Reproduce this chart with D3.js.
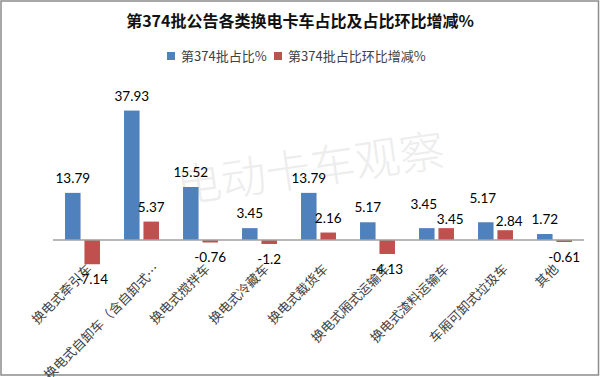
<!DOCTYPE html>
<html>
<head>
<meta charset="utf-8">
<script src="https://cdn.jsdelivr.net/npm/d3@7"></script>
<style>
  body { margin: 0; background: #fff; }
  svg { display: block; }
</style>
</head>
<body>
<div id="app"></div>
<script>
const d3 = window.d3;

const title = "第374批公告各类换电卡车占比及占比环比增减%";
const categories = [
  "换电式牵引车",
  "换电式自卸车（含自卸式…",
  "换电式搅拌车",
  "换电式冷藏车",
  "换电式载货车",
  "换电式厢式运输车",
  "换电式渣料运输车",
  "车厢可卸式垃圾车",
  "其他",
];
const seriesNames = ["第374批占比%", "第374批占比环比增减%"];
const shareValues = [13.79, 37.93, 15.52, 3.45, 13.79, 5.17, 3.45, 5.17, 1.72];
const changeValues = [-7.14, 5.37, -0.76, -1.2, 2.16, -4.13, 3.45, 2.84, -0.61];
const watermark = "电动卡车观察";

const screen = { width: 600, height: 377 };
const plot = { left: 53, right: 584, top: 103.5, bottom: 274 };
const colors = ["#4f81bd", "#c0504d"];
const numFont = "Lato, 'Liberation Sans', sans-serif";
const cjkFont = "'Noto Sans CJK SC', sans-serif";

const data = categories.map((c, i) => ({
  category: c,
  values: [shareValues[i], changeValues[i]],
}));

const scales = {
  x0: d3.scaleBand().domain(categories).range([plot.left, plot.right]).padding(0),
  x1: d3.scaleBand().domain([0, 1]).paddingInner(0.2).paddingOuter(0.62),
  y: d3.scaleLinear().domain([-10, 40]).range([plot.bottom, plot.top]),
};
scales.x1.range([0, scales.x0.bandwidth()]);

const svg = d3
  .create("svg")
  .attr("width", screen.width)
  .attr("height", screen.height)
  .attr("viewBox", [0, 0, screen.width, screen.height]);

svg.append("rect")
  .attr("width", screen.width)
  .attr("height", screen.height)
  .attr("fill", "#fff");

// frame
svg.append("rect")
  .attr("x", 1)
  .attr("y", 1)
  .attr("width", screen.width - 2.5)
  .attr("height", screen.height - 3)
  .attr("fill", "none")
  .attr("stroke", "#8c8c8c")
  .attr("stroke-width", 1.5);

// watermark
svg.append("text")
  .attr("transform", "translate(179,203) rotate(-8)")
  .attr("font-family", cjkFont)
  .attr("font-size", 45)
  .attr("font-weight", 300)
  .attr("fill", "#ededed")
  .text(watermark);

// title
svg.append("text")
  .attr("x", screen.width / 2)
  .attr("y", 27)
  .attr("text-anchor", "middle")
  .attr("font-family", cjkFont)
  .attr("font-size", 16)
  .attr("font-weight", "bold")
  .attr("fill", "#111")
  .text(title);

// legend
const legendItems = [
  { name: seriesNames[0], x: 167 },
  { name: seriesNames[1], x: 274 },
];
const legend = svg.append("g").attr("class", "legend");
legendItems.forEach((d, i) => {
  legend.append("rect")
    .attr("x", d.x)
    .attr("y", 52)
    .attr("width", 8)
    .attr("height", 8)
    .attr("fill", colors[i]);
  legend.append("text")
    .attr("x", d.x + 14)
    .attr("y", 61)
    .attr("font-family", cjkFont)
    .attr("font-size", 13)
    .attr("fill", "#404040")
    .text(d.name);
});

// bars
const groups = svg.append("g")
  .selectAll("g")
  .data(data)
  .join("g")
  .attr("transform", (d) => `translate(${scales.x0(d.category)},0)`);

groups.selectAll("rect")
  .data((d) => d.values.map((v, i) => ({ v, i })))
  .join("rect")
  .attr("x", (d) => scales.x1(d.i))
  .attr("y", (d) => scales.y(Math.max(0, d.v)))
  .attr("width", scales.x1.bandwidth())
  .attr("height", (d) => Math.abs(scales.y(d.v) - scales.y(0)))
  .attr("fill", (d) => colors[d.i]);

// zero line
svg.append("line")
  .attr("x1", plot.left)
  .attr("x2", plot.right)
  .attr("y1", scales.y(0))
  .attr("y2", scales.y(0))
  .attr("stroke", "#a0a0a0")
  .attr("stroke-width", 1.5);

// value labels, nudged apart when the pair in one category collides
const labels = [];
data.forEach((d) => {
  const pair = d.values.map((v, i) => {
    const cx = scales.x0(d.category) + scales.x1(i) + scales.x1.bandwidth() / 2;
    const y = v >= 0 ? scales.y(v) - 10 : scales.y(v) + 20;
    return { v, i, x: cx, y };
  });
  const [a, b] = pair;
  if (a.v >= 0 && b.v >= 0 && Math.abs(a.y - b.y) < 11) {
    a.y -= 9;
    a.x -= 3;
    b.y += 6;
    b.x += 4;
  }
  labels.push(...pair);
});

svg.append("g")
  .selectAll("text")
  .data(labels)
  .join("text")
  .attr("x", (d) => d.x)
  .attr("y", (d) => d.y)
  .attr("text-anchor", "middle")
  .attr("font-family", numFont)
  .attr("font-size", 13.5)
  .attr("fill", "#000")
  .text((d) => String(d.v));

// category labels, rotated
svg.append("g")
  .selectAll("text")
  .data(categories)
  .join("text")
  .attr("transform", (d) => {
    const cx = scales.x0(d) + scales.x0.bandwidth() / 2 + 1.4 * d.length - 2;
    return `translate(${cx},266) rotate(-45)`;
  })
  .attr("text-anchor", "end")
  .attr("dominant-baseline", "central")
  .attr("font-family", cjkFont)
  .attr("font-size", 13)
  .attr("fill", "#404040")
  .text((d) => d);

document.getElementById("app").append(svg.node());
</script>
</body>
</html>
